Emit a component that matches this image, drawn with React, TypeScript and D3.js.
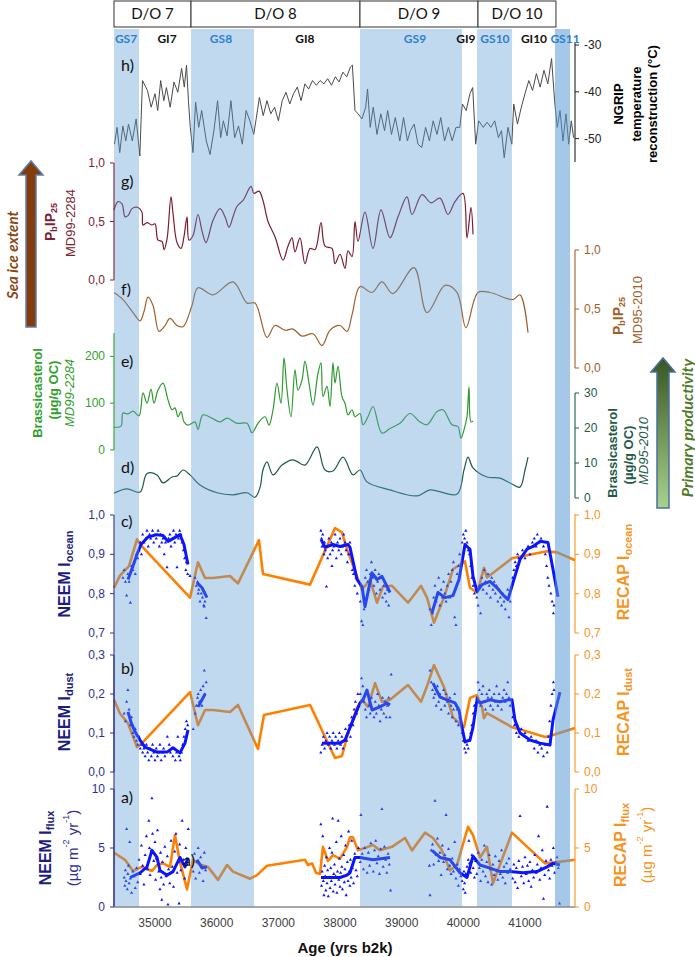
import React from 'react';
import * as d3 from 'd3';

// ---------------- DATA ----------------
const AGE_DOMAIN: [number, number] = [34335, 41811];
const X_TICKS = [35000, 36000, 37000, 38000, 39000, 40000, 41000];

const DO_EVENTS = [
  { label: 'D/O 7', start: 34335, end: 35584 },
  { label: 'D/O 8', start: 35584, end: 38324 },
  { label: 'D/O 9', start: 38324, end: 40238 },
  { label: 'D/O 10', start: 40238, end: 41502 },
];

const STADIALS = [
  { start: 34335, end: 34741, dark: false },
  { start: 35584, end: 36605, dark: false },
  { start: 38324, end: 39978, dark: false },
  { start: 40222, end: 40789, dark: false },
  { start: 41486, end: 41730, dark: true },
];

const PERIOD_LABELS = [
  { label: 'GS7', age: 34530, stadial: true },
  { label: 'GI7', age: 35195, stadial: false },
  { label: 'GS8', age: 36070, stadial: true },
  { label: 'GI8', age: 37432, stadial: false },
  { label: 'GS9', age: 39216, stadial: true },
  { label: 'GI9', age: 40040, stadial: false },
  { label: 'GS10', age: 40513, stadial: true },
  { label: 'GI10', age: 41146, stadial: false },
  { label: 'GS11', age: 41649, stadial: true },
];

// h) NGRIP temperature (°C)
const NGRIP_TEMP: [number, number][] = [
  [34342,-51.2],[34385,-47.6],[34428,-53],[34478,-47.3],[34526,-50.5],[34570,-46.9],[34632,-50.5],[34694,-45.8],[34754,-53.7],[34797,-37.6],[34877,-39.7],[34938,-43.3],[35000,-40.4],[35044,-44],[35092,-37.6],[35143,-41.9],[35185,-39.1],[35246,-43.3],[35308,-37.9],[35370,-40.1],[35431,-35],[35475,-39],[35511,-34.3],[35542,-41.9],[35572,-47.6],[35616,-53],[35658,-42.2],[35709,-47.6],[35757,-44],[35832,-50.5],[35893,-53.4],[35955,-48.3],[36015,-41.9],[36065,-49.8],[36108,-46.2],[36169,-49.4],[36231,-41.9],[36292,-49.8],[36354,-47.3],[36416,-51.2],[36477,-44],[36539,-46.2],[36601,-49.1],[36644,-45.5],[36693,-41.2],[36755,-45.1],[36816,-41.9],[36878,-44.7],[36939,-43.3],[37001,-46.2],[37063,-41.9],[37124,-40.1],[37186,-42.6],[37246,-40.4],[37308,-39],[37369,-41.9],[37431,-38.3],[37492,-39.4],[37554,-37.6],[37616,-38.6],[37677,-37.6],[37739,-38.3],[37800,-37.2],[37862,-38.6],[37924,-36.8],[37985,-37.9],[38047,-35.8],[38109,-36.8],[38170,-34.7],[38201,-34.3],[38243,-44],[38293,-44.7],[38355,-45.8],[38417,-43.3],[38447,-39.4],[38490,-47.6],[38539,-43.3],[38600,-49.1],[38662,-44.7],[38723,-48.3],[38773,-44],[38835,-49.1],[38897,-45.5],[38970,-50.5],[39031,-45.5],[39093,-50.5],[39142,-48.3],[39203,-46.9],[39265,-51.2],[39326,-51.9],[39388,-47.6],[39450,-50.5],[39511,-46.2],[39573,-49.1],[39634,-45.5],[39696,-50.5],[39758,-47.6],[39819,-50.5],[39881,-47.6],[39943,-47.6],[39985,-42.6],[40046,-44],[40108,-40.4],[40152,-39.1],[40200,-51.2],[40249,-46.2],[40324,-47.6],[40385,-46.5],[40447,-47.6],[40509,-46.2],[40570,-49.8],[40619,-48.3],[40663,-54.1],[40724,-47.6],[40786,-51.2],[40817,-42.6],[40878,-46.9],[40940,-43.3],[41000,-40.4],[41062,-37.6],[41123,-39.7],[41185,-36.1],[41246,-39],[41308,-35.4],[41370,-38.3],[41431,-32.9],[41480,-41.9],[41524,-47.6],[41568,-44],[41616,-50.5],[41665,-44.7],[41709,-51.2],[41751,-46.2],[41788,-49.8]
];

// g) PbIP25 MD99-2284
const PBIP25_MD99: [number, number][] = [
  [34335,0.60],[34400,0.67],[34465,0.65],[34514,0.54],[34562,0.55],[34627,0.61],[34724,0.62],[34789,0.58],[34805,0.47],[34870,0.49],[34951,0.47],[35000,0.48],[35049,0.34],[35114,0.33],[35146,0.26],[35195,0.35],[35259,0.71],[35292,0.57],[35357,0.32],[35422,0.27],[35470,0.37],[35519,0.54],[35551,0.34],[35616,0.38],[35697,0.56],[35762,0.42],[35827,0.32],[35941,0.51],[36054,0.61],[36135,0.54],[36200,0.45],[36265,0.54],[36330,0.63],[36427,0.68],[36557,0.80],[36605,0.74],[36686,0.76],[36751,0.68],[36832,0.50],[36946,0.37],[37076,0.17],[37157,0.29],[37222,0.36],[37270,0.24],[37351,0.36],[37432,0.14],[37514,0.27],[37595,0.26],[37692,0.49],[37757,0.29],[37870,0.27],[37919,0.14],[38000,0.22],[38081,0.10],[38130,0.25],[38195,0.20],[38243,0.50],[38292,0.33],[38405,0.58],[38535,0.27],[38665,0.60],[38811,0.36],[38941,0.54],[39086,0.71],[39168,0.56],[39330,0.73],[39476,0.66],[39622,0.70],[39751,0.56],[39865,0.67],[39995,0.74],[40059,0.36],[40124,0.62],[40157,0.39]
];

// f) PbIP25 MD95-2010
const PBIP25_MD95: [number, number][] = [
  [34335,0.64],[34481,0.58],[34643,0.47],[34757,0.40],[34822,0.48],[34886,0.60],[34968,0.53],[35065,0.31],[35162,0.36],[35243,0.42],[35357,0.36],[35454,0.35],[35600,0.53],[35697,0.68],[35941,0.62],[36265,0.73],[36492,0.55],[36622,0.55],[36816,0.26],[36946,0.36],[37108,0.32],[37238,0.33],[37384,0.27],[37562,0.29],[37708,0.19],[37838,0.32],[38000,0.36],[38114,0.31],[38195,0.45],[38324,0.69],[38519,0.64],[38681,0.73],[38859,0.63],[39200,0.85],[39411,0.47],[39703,0.70],[39897,0.64],[40043,0.34],[40238,0.64],[40432,0.64],[40805,0.58],[40919,0.62],[41049,0.30]
];

// e) Brassicasterol MD99-2284 (µg/g OC)
const BRASSI_MD99: [number, number][] = [
  [34335,49],[34449,51],[34481,79],[34562,77],[34643,83],[34741,73],[34805,122],[34870,100],[34935,130],[34984,100],[35049,128],[35130,143],[35211,107],[35276,86],[35324,90],[35373,71],[35422,82],[35470,60],[35535,53],[35649,60],[35697,44],[35778,75],[35924,68],[36054,60],[36168,68],[36330,57],[36492,57],[36573,37],[36670,57],[36784,71],[36849,53],[36914,86],[36978,143],[37043,100],[37092,197],[37141,128],[37205,71],[37270,171],[37319,128],[37384,150],[37432,190],[37497,143],[37562,96],[37643,164],[37692,186],[37724,114],[37789,136],[37838,93],[37886,186],[37919,143],[37968,179],[38032,114],[38081,100],[38130,75],[38195,86],[38243,71],[38324,78],[38373,54],[38454,71],[38535,93],[38681,36],[38811,46],[38973,57],[39135,78],[39297,60],[39411,54],[39573,82],[39670,86],[39816,54],[39913,50],[39962,25],[40011,43],[40059,71],[40092,135],[40124,60],[40157,62]
];

// d) Brassicasterol MD95-2010 (µg/g OC)
const BRASSI_MD95: [number, number][] = [
  [34335,1.4],[34546,2.6],[34757,1.7],[34870,7],[35032,6.6],[35130,4.3],[35276,6],[35357,6.3],[35454,8],[35568,6.6],[35730,3.7],[36005,1.5],[36265,0.9],[36492,1.5],[36622,0.2],[36703,3],[36751,8],[36816,10.3],[36914,6.6],[37059,9.4],[37238,10.9],[37432,9.4],[37627,14.6],[37757,8],[37886,7.7],[38049,11.7],[38211,6.6],[38324,8],[38438,4.6],[38811,2.3],[39249,0.6],[39459,2.3],[39897,1.1],[40011,8],[40076,11.7],[40157,8.6],[40384,6],[40595,5.7],[40789,4],[40919,3.1],[41000,8],[41049,11.7]
];

// c) I_ocean
const RECAP_OCEAN: [number, number][] = [
  [34335,0.815],[34432,0.846],[34578,0.87],[34708,0.938],[34789,0.92],[35568,0.79],[35697,0.88],[35811,0.84],[35941,0.84],[36216,0.845],[36346,0.826],[36686,0.936],[36751,0.85],[37514,0.823],[37919,0.967],[38032,0.956],[38114,0.913],[38276,0.844],[38357,0.81],[38486,0.836],[38600,0.777],[38697,0.818],[38843,0.82],[39103,0.777],[39314,0.82],[39411,0.79],[39524,0.726],[39686,0.79],[39832,0.862],[40027,0.882],[40108,0.815],[40222,0.803],[40270,0.828],[40335,0.866],[40384,0.841],[40789,0.89],[40951,0.895],[41357,0.908],[41519,0.905],[41811,0.885]
];
const NEEM_OCEAN_LINE: [number, number][][] = [
  [[34562,0.836],[34643,0.87],[34708,0.90],[34773,0.925],[34886,0.944],[35032,0.95],[35130,0.948],[35211,0.933],[35292,0.94],[35405,0.95],[35470,0.925],[35535,0.874]],
  [[35681,0.828],[35762,0.815],[35843,0.79]],
  [[37692,0.938],[37757,0.918],[37886,0.925],[38000,0.92],[38130,0.925],[38162,0.918],[38276,0.836],[38357,0.818],[38405,0.767],[38519,0.853],[38600,0.836],[38681,0.844],[38811,0.803]],
  [[39492,0.751],[39589,0.803],[39703,0.79],[39832,0.795],[39930,0.836],[40027,0.925],[40108,0.913],[40157,0.844],[40222,0.805],[40303,0.823],[40432,0.831],[40546,0.815],[40643,0.797],[40724,0.785],[40805,0.828],[40919,0.887],[41032,0.913],[41130,0.92],[41243,0.933],[41373,0.93],[41454,0.862],[41535,0.792]],
];
const NEEM_OCEAN_PTS: [number, number][] = [
  [34480,0.84],[34500,0.86],[34520,0.83],[34540,0.795],[34560,0.85],[34580,0.83],[34600,0.777],[34620,0.87],[34640,0.86],[34660,0.88],[34680,0.85],[34700,0.9],[34720,0.89],[34740,0.91],[34760,0.93],[34780,0.9],[34800,0.95],[34820,0.93],[34850,0.94],[34870,0.96],[34890,0.92],[34910,0.95],[34930,0.94],[34960,0.96],[34980,0.93],[35000,0.95],[35020,0.94],[35050,0.96],[35070,0.92],[35090,0.95],[35110,0.93],[35130,0.94],[35150,0.9],[35170,0.93],[35195,0.867],[35220,0.94],[35240,0.95],[35260,0.92],[35280,0.94],[35300,0.96],[35320,0.93],[35340,0.95],[35357,0.867],[35380,0.94],[35400,0.96],[35420,0.95],[35440,0.93],[35460,0.91],[35480,0.89],[35500,0.86],[35510,0.88],[35530,0.85],[35568,0.845],
  [35650,0.84],[35670,0.82],[35690,0.83],[35700,0.8],[35710,0.81],[35730,0.78],[35750,0.8],[35770,0.79],[35790,0.77],[35800,0.767],[35810,0.78],[35830,0.738],
  [37690,0.96],[37700,0.94],[37710,0.92],[37720,0.95],[37740,0.9],[37750,0.93],[37760,0.91],[37780,0.818],[37790,0.92],[37800,0.89],[37820,0.94],[37840,0.9],[37860,0.93],[37870,0.87],[37880,0.91],[37900,0.92],[37920,0.95],[37940,0.89],[37960,0.93],[37980,0.91],[38000,0.94],[38020,0.9],[38040,0.92],[38060,0.95],[38080,0.93],[38100,0.91],[38120,0.88],[38140,0.9],[38160,0.93],[38180,0.9],[38200,0.86],[38220,0.85],[38240,0.82],[38260,0.84],[38280,0.8],
  [38330,0.78],[38350,0.73],[38370,0.72],[38390,0.76],[38410,0.84],[38430,0.86],[38450,0.83],[38470,0.81],[38490,0.85],[38510,0.88],[38530,0.84],[38550,0.82],[38570,0.86],[38590,0.8],[38610,0.83],[38630,0.85],[38650,0.81],[38670,0.84],[38690,0.79],[38710,0.82],[38730,0.8],[38750,0.78],[38770,0.81],[38790,0.77],
  [39460,0.76],[39480,0.72],[39500,0.75],[39520,0.79],[39540,0.82],[39560,0.78],[39580,0.8],[39600,0.84],[39620,0.77],[39640,0.81],[39660,0.79],[39680,0.83],[39700,0.8],[39720,0.78],[39740,0.82],[39760,0.85],[39780,0.79],[39800,0.83],[39820,0.86],[39840,0.88],[39860,0.74],[39880,0.72],[39900,0.85],[39920,0.87],[39940,0.9],
  [39980,0.93],[40000,0.95],[40020,0.94],[40040,0.96],[40060,0.93],[40080,0.91],[40100,0.9],[40120,0.87],[40140,0.84],[40160,0.82],[40180,0.8],
  [40220,0.79],[40240,0.77],[40260,0.82],[40280,0.75],[40300,0.84],[40320,0.81],[40340,0.86],[40360,0.83],[40380,0.8],[40400,0.85],[40420,0.82],[40440,0.79],[40460,0.84],[40480,0.81],[40500,0.83],[40520,0.8],[40540,0.82],[40560,0.78],[40580,0.81],[40600,0.79],[40620,0.77],[40640,0.8],[40660,0.78],[40680,0.76],[40700,0.79],[40720,0.81],[40740,0.74],[40760,0.78],
  [40800,0.84],[40820,0.86],[40840,0.88],[40860,0.87],[40880,0.9],[40900,0.89],[40960,0.91],[41000,0.89],[41050,0.92],[41080,0.9],[41120,0.93],[41150,0.94],[41180,0.92],[41200,0.95],[41230,0.93],[41260,0.94],[41300,0.92],[41330,0.9],[41350,0.87],[41370,0.84],[41390,0.82],[41420,0.8],[41440,0.78],[41460,0.75],[41470,0.77]
];

// b) I_dust
const RECAP_DUST: [number, number][] = [
  [34335,0.185],[34432,0.15],[34562,0.125],[34708,0.064],[34789,0.074],[35568,0.205],[35697,0.12],[35811,0.159],[35941,0.159],[36216,0.154],[36346,0.172],[36670,0.059],[36767,0.146],[37514,0.172],[37919,0.036],[38032,0.041],[38130,0.1],[38276,0.165],[38357,0.185],[38454,0.167],[38568,0.228],[38681,0.18],[38811,0.185],[39103,0.223],[39314,0.18],[39411,0.22],[39524,0.274],[39686,0.218],[39832,0.14],[40011,0.115],[40108,0.19],[40222,0.197],[40303,0.167],[40335,0.138],[40384,0.151],[40789,0.115],[40951,0.108],[41324,0.09],[41454,0.095],[41811,0.113]
];
const NEEM_DUST_LINE: [number, number][][] = [
  [[34562,0.154],[34611,0.128],[34676,0.103],[34757,0.082],[34838,0.064],[35032,0.051],[35195,0.051],[35292,0.062],[35405,0.049],[35486,0.074],[35535,0.108]],
  [[35697,0.167],[35762,0.185],[35811,0.2]],
  [[37708,0.074],[37870,0.074],[38000,0.074],[38081,0.082],[38211,0.133],[38324,0.177],[38373,0.185],[38438,0.21],[38519,0.159],[38649,0.167],[38762,0.177],[38811,0.172]],
  [[39508,0.228],[39622,0.192],[39735,0.185],[39865,0.177],[39930,0.159],[39978,0.115],[40027,0.077],[40108,0.082],[40157,0.115],[40222,0.185],[40270,0.177],[40432,0.185],[40595,0.18],[40724,0.185],[40789,0.185],[40838,0.133],[40919,0.1],[41081,0.082],[41243,0.074],[41405,0.069],[41454,0.133],[41535,0.185],[41568,0.205]],
];
const NEEM_DUST_PTS: [number, number][] = [
  [34500,0.15],[34520,0.13],[34540,0.18],[34560,0.21],[34580,0.16],[34600,0.12],[34620,0.14],[34640,0.1],[34660,0.09],[34680,0.11],[34700,0.08],[34720,0.07],[34740,0.09],[34760,0.06],[34780,0.07],[34800,0.05],[34820,0.06],[34840,0.04],[34860,0.07],[34880,0.05],[34900,0.03],[34920,0.06],[34940,0.04],[34960,0.07],[34980,0.05],[35000,0.03],[35020,0.06],[35040,0.04],[35060,0.05],[35080,0.07],[35100,0.03],[35120,0.05],[35140,0.06],[35160,0.04],[35200,0.09],[35230,0.07],[35250,0.05],[35270,0.06],[35290,0.04],[35310,0.06],[35330,0.03],[35350,0.05],[35370,0.09],[35390,0.04],[35410,0.03],[35430,0.05],[35450,0.07],[35470,0.09],[35490,0.11],[35510,0.13],[35530,0.12],
  [35620,0.11],[35650,0.15],[35670,0.17],[35690,0.19],[35700,0.2],[35720,0.18],[35740,0.21],[35760,0.17],[35780,0.22],[35800,0.26],[35810,0.2],[35830,0.23],
  [37690,0.05],[37710,0.07],[37730,0.09],[37750,0.06],[37770,0.08],[37790,0.1],[37810,0.07],[37830,0.09],[37850,0.06],[37870,0.08],[37890,0.1],[37910,0.07],[37930,0.09],[37950,0.06],[37970,0.08],[37990,0.1],[38010,0.07],[38030,0.09],[38050,0.06],[38070,0.08],[38090,0.11],[38110,0.08],[38130,0.1],[38150,0.12],[38170,0.09],[38190,0.14],[38210,0.12],[38230,0.16],[38250,0.18],[38270,0.15],[38290,0.2],
  [38330,0.2],[38350,0.24],[38370,0.22],[38390,0.18],[38410,0.16],[38430,0.14],[38450,0.2],[38470,0.17],[38490,0.15],[38510,0.19],[38530,0.16],[38550,0.14],[38570,0.18],[38590,0.15],[38610,0.2],[38630,0.17],[38650,0.13],[38670,0.16],[38690,0.19],[38710,0.15],[38730,0.18],[38750,0.14],[38770,0.17],[38790,0.19],[38810,0.14],[38830,0.25],
  [39460,0.26],[39480,0.23],[39500,0.21],[39520,0.19],[39540,0.2],[39560,0.17],[39580,0.22],[39600,0.18],[39620,0.2],[39640,0.16],[39660,0.19],[39680,0.21],[39700,0.17],[39720,0.2],[39740,0.18],[39760,0.15],[39780,0.19],[39800,0.17],[39820,0.14],[39840,0.16],[39860,0.2],[39880,0.13],[39900,0.16],[39920,0.12],[39940,0.14],
  [39980,0.1],[40000,0.08],[40020,0.06],[40040,0.05],[40060,0.07],[40080,0.06],[40100,0.08],[40120,0.1],[40140,0.12],[40160,0.15],[40180,0.17],
  [40220,0.19],[40240,0.23],[40260,0.21],[40280,0.17],[40300,0.2],[40320,0.22],[40340,0.18],[40360,0.16],[40380,0.2],[40400,0.19],[40420,0.21],[40440,0.17],[40460,0.19],[40480,0.16],[40500,0.2],[40520,0.18],[40540,0.22],[40560,0.17],[40580,0.2],[40600,0.18],[40620,0.16],[40640,0.19],[40660,0.21],[40680,0.18],[40700,0.2],[40720,0.23],[40740,0.19],[40760,0.17],
  [40800,0.14],[40830,0.12],[40860,0.1],[40900,0.09],[40940,0.11],[41000,0.1],[41050,0.08],[41100,0.09],[41150,0.06],[41180,0.08],[41210,0.05],[41240,0.07],[41270,0.06],[41300,0.04],[41330,0.07],[41360,0.05],[41380,0.09],[41400,0.13],[41420,0.17],[41440,0.2],[41460,0.23],[41470,0.21]
];

// a) I_flux (µg m-2 yr-1)
const RECAP_FLUX: [number, number][] = [
  [34335,4.6],[34514,4.0],[34643,3.05],[34789,3.4],[34951,3.05],[35032,3.56],[35130,3.7],[35243,3.4],[35324,6.1],[35405,3.8],[35519,1.5],[35616,4.0],[35730,3.6],[35859,3.4],[36022,2.3],[36168,3.56],[36265,3.0],[36541,2.4],[36654,2.7],[36816,3.5],[37432,4.0],[37481,3.56],[37546,3.7],[37611,2.9],[37676,2.8],[37724,5.1],[37805,3.9],[37886,4.4],[38000,4.1],[38114,5.1],[38162,5.9],[38211,5.9],[38292,4.8],[38535,5.25],[38649,4.8],[38843,5.1],[39054,5.85],[39168,4.8],[39378,6.3],[39508,5.85],[39654,4.8],[39784,3.1],[39897,3.56],[40076,6.8],[40157,6.1],[40270,4.2],[40384,5.1],[40481,2.0],[40789,6.3],[41324,3.7],[41519,3.8],[41811,4.0]
];
const NEEM_FLUX_LINE: [number, number][][] = [
  [[34595,2.5],[34757,2.9],[34870,3.4],[34951,4.8],[35032,4.2],[35081,3.1],[35195,2.7],[35292,3.0],[35405,4.2],[35486,3.4],[35535,4.2]],
  [[35681,4.0],[35762,3.3],[35843,3.4]],
  [[37692,2.5],[37886,2.5],[38000,2.5],[38114,2.7],[38162,2.9],[38243,4.2],[38324,4.2],[38535,4.0],[38811,4.2]],
  [[39492,4.8],[39622,4.2],[39784,4.0],[39946,2.9],[40059,2.5],[40157,4.3],[40270,3.56],[40432,3.3],[40595,3.0],[40757,3.0],[40968,2.9],[41195,3.0],[41357,3.4],[41454,3.7],[41568,3.56]],
];
const NEEM_FLUX_PTS: [number, number][] = [
  [34500,2.5],[34510,1.8],[34520,3.1],[34530,2.2],[34540,6.6],[34550,1.5],[34560,2.8],[34570,3.5],[34580,2.0],[34590,5.5],[34600,2.4],[34620,1.2],[34640,3.0],[34660,2.6],[34680,1.6],[34700,3.3],[34720,2.1],[34740,4.0],[34760,2.8],[34780,5.2],[34800,3.5],[34820,1.9],[34840,4.4],[34860,6.0],[34880,3.2],[34900,7.3],[34910,5.0],[34920,2.7],[34940,4.8],[34950,9.2],[34960,6.2],[34980,3.9],[35000,5.5],[35010,2.3],[35020,4.1],[35040,6.5],[35060,3.0],[35080,1.5],[35090,4.6],[35100,2.5],[35110,0.6],[35120,3.8],[35140,1.9],[35160,5.1],[35180,2.6],[35200,4.3],[35210,0.2],[35220,3.2],[35240,2.0],[35260,5.6],[35280,3.4],[35300,1.7],[35320,4.7],[35340,6.2],[35360,2.9],[35380,3.8],[35390,0.3],[35400,5.3],[35420,3.1],[35440,7.3],[35460,4.0],[35480,2.4],[35500,5.0],[35520,3.6],[35540,6.6],
  [35620,3.0],[35640,4.5],[35660,2.4],[35680,3.8],[35700,5.0],[35720,2.9],[35740,4.2],[35760,3.4],[35780,2.2],[35800,4.6],[35820,3.1],
  [37690,7.0],[37700,1.8],[37710,3.0],[37720,6.0],[37730,2.2],[37740,1.0],[37750,3.5],[37760,2.6],[37770,1.4],[37780,4.2],[37790,2.0],[37800,3.1],[37810,0.9],[37820,2.5],[37830,5.0],[37840,1.6],[37850,3.3],[37860,2.2],[37870,4.6],[37880,7.5],[37890,1.3],[37900,2.8],[37910,3.6],[37920,1.9],[37930,2.6],[37940,5.5],[37950,1.2],[37960,3.0],[37970,7.3],[37980,2.3],[37990,4.1],[38000,1.7],[38010,2.9],[38020,6.0],[38030,3.4],[38040,1.5],[38050,2.6],[38060,4.4],[38070,2.1],[38080,3.2],[38090,5.2],[38100,1.0],[38110,2.7],[38120,3.8],[38130,2.2],[38140,6.4],[38150,3.0],[38160,1.8],[38170,4.0],[38180,2.5],[38190,5.6],[38200,3.3],[38220,2.0],[38240,4.5],[38260,3.1],[38280,2.6],[38300,5.0],
  [38330,3.8],[38340,7.8],[38360,4.5],[38380,3.2],[38400,5.0],[38420,4.1],[38440,2.9],[38460,4.6],[38480,3.5],[38500,5.4],[38520,4.0],[38540,3.0],[38560,4.8],[38580,5.6],[38600,3.7],[38620,4.3],[38640,2.8],[38660,4.9],[38680,8.3],[38700,3.4],[38720,5.1],[38740,4.0],[38760,2.9],[38780,4.5],[38800,3.6],[38820,1.4],
  [39450,3.5],[39460,1.0],[39480,4.8],[39500,5.3],[39520,3.6],[39540,9.0],[39560,4.4],[39580,5.8],[39600,3.9],[39620,4.6],[39640,2.7],[39660,5.2],[39680,3.8],[39700,4.4],[39720,7.8],[39740,3.2],[39760,4.9],[39780,3.5],[39800,2.8],[39820,4.1],[39840,3.0],[39860,5.5],[39880,2.4],[39900,3.6],[39920,1.8],[39940,3.2],[39960,2.6],
  [39980,2.2],[40000,1.5],[40010,3.0],[40020,2.0],[40030,1.2],[40040,2.8],[40060,3.4],[40080,4.0],[40090,5.6],[40100,3.7],[40120,2.9],[40140,4.4],[40160,3.3],[40180,2.5],[40200,3.9],
  [40220,2.8],[40240,4.6],[40260,3.3],[40280,2.2],[40300,4.0],[40320,3.0],[40340,5.2],[40360,2.6],[40380,3.8],[40400,2.1],[40420,4.4],[40440,3.2],[40460,1.9],[40480,3.6],[40500,2.7],[40520,4.3],[40540,3.1],[40560,2.3],[40580,3.9],[40600,2.8],[40620,4.8],[40640,2.5],[40660,3.4],[40680,2.0],[40700,3.7],[40720,2.9],[40740,4.1],[40760,3.2],
  [40800,2.4],[40820,3.6],[40840,2.1],[40860,3.3],[40880,1.6],[40900,3.9],[40920,7.7],[40940,2.6],[40960,3.4],[40980,2.0],[41000,4.2],[41020,2.8],[41040,3.5],[41060,2.2],[41080,3.8],[41100,1.7],[41120,3.1],[41140,2.5],[41160,4.4],[41180,2.9],[41200,3.6],[41220,6.0],[41240,2.3],[41260,3.3],[41280,4.8],[41300,0.7],[41320,2.7],[41340,3.9],[41360,8.5],[41380,3.1],[41400,2.4],[41420,4.0],[41440,3.5],[41460,5.0],[41480,2.9],[41500,3.8],[41520,4.2],[41540,3.3],[41560,0.3]
];

const TICKS_H = [-30, -40, -50];
const TICKS_UNIT = [0, 0.5, 1];
const TICKS_E = [0, 100, 200];
const TICKS_D = [0, 10, 20, 30];
const TICKS_C = [0.7, 0.8, 0.9, 1.0];
const TICKS_B = [0, 0.1, 0.2, 0.3];
const TICKS_A = [0, 5, 10];

// ---------------- LAYOUT / STYLE ----------------
const X0 = 114, X1 = 575;
const x = d3.scaleLinear().domain(AGE_DOMAIN).range([X0, X1]);
const yH = d3.scaleLinear().domain([-55, -30]).range([162, 45]);
const yG = d3.scaleLinear().domain([0, 1]).range([280, 163]);
const yF = d3.scaleLinear().domain([0, 1]).range([368, 250]);
const yE = d3.scaleLinear().domain([0, 250]).range([450, 333]);
const yD = d3.scaleLinear().domain([0, 30]).range([498, 393]);
const yC = d3.scaleLinear().domain([0.7, 1.0]).range([633, 515]);
const yB = d3.scaleLinear().domain([0, 0.3]).range([772, 655]);
const yA = d3.scaleLinear().domain([0, 10]).range([907, 789]);

const SANS = "'Liberation Sans', Arial, sans-serif";
const CAL = "Lato, 'Open Sans', sans-serif";
const C_NAVY = '#2e3192';
const C_ORANGE = '#f7941d';
const C_RECAP = '#ff8000';
const C_NEEM = '#0a14ff';
const C_G = '#7b2332';
const C_F = '#a0602a';
const C_E = '#32a02c';
const C_D = '#1e5a48';

function comma(d: number, digits: number) {
  return digits > 0 ? d.toFixed(digits).replace('.', ',') : String(d);
}

function mkLine(ys: d3.ScaleLinear<number, number>, curve: d3.CurveFactory = d3.curveLinear) {
  return d3.line<[number, number]>().x(d => x(d[0])).y(d => ys(d[1])).curve(curve);
}

type AxisProps = {
  xPos: number; side: 'left' | 'right'; scale: d3.ScaleLinear<number, number>;
  ticks: number[]; digits: number; color: string; textColor?: string; y1: number; y2: number;
};
const VAxis = ({ xPos, side, scale, ticks, digits, color, textColor, y1, y2 }: AxisProps) => {
  const dir = side === 'left' ? -1 : 1;
  return (
    <g>
      <line x1={xPos} x2={xPos} y1={y1} y2={y2} stroke={color} strokeWidth={1.1} />
      {ticks.map(t => {
        const yy = scale(t);
        return (
          <g key={t}>
            <line x1={xPos} x2={xPos + dir * 4} y1={yy} y2={yy} stroke={color} strokeWidth={1} />
            <text x={xPos + dir * 9} y={yy} textAnchor={side === 'left' ? 'end' : 'start'} dominantBaseline="central"
              fill={textColor || color} fontSize={12} fontFamily={SANS}>{comma(t, digits)}</text>
          </g>
        );
      })}
    </g>
  );
};

const VText = ({ cx, cy, children, size = 13, color = '#000', weight = 'normal', italic = false, family = SANS }: any) => (
  <text transform={`translate(${cx},${cy}) rotate(-90)`} textAnchor="middle" dominantBaseline="central"
    fontSize={size} fill={color} fontWeight={weight} fontStyle={italic ? 'italic' : 'normal'} fontFamily={family}>
    {children}
  </text>
);

const Units = () => (
  <>
    <tspan>(µg m</tspan>
    <tspan fontSize={9} dy={-6}>-2</tspan>
    <tspan dy={6}> yr</tspan>
    <tspan fontSize={9} dy={-6}>-1</tspan>
    <tspan dy={6}>)</tspan>
  </>
);

const PbIP = () => (
  <>
    <tspan>P</tspan><tspan fontSize={9} dy={4}>b</tspan><tspan dy={-4}>IP</tspan><tspan fontSize={9} dy={4}>25</tspan>
  </>
);

export default function App() {
  const tri = d3.symbol().type(d3.symbolTriangle).size(4.5)() as string;
  const scatter = (pts: [number, number][], ys: d3.ScaleLinear<number, number>) =>
    pts.map((p, i) => <path key={i} d={tri} transform={`translate(${x(p[0])},${ys(p[1])})`} fill={C_NEEM} />);

  const smooth = d3.curveCatmullRom.alpha(0.5);

  return (
    <svg width={695} height={957} style={{ position: 'absolute', left: 0, top: 0, background: '#fff' }}>
      <rect x={0} y={0} width={695} height={957} fill="#fff" />

      {/* Header box */}
      {DO_EVENTS.map(ev => (
        <g key={ev.label}>
          <rect x={x(ev.start)} y={1} width={x(ev.end) - x(ev.start)} height={26} fill="#fff" stroke="#333" strokeWidth={1} />
          <text x={(x(ev.start) + x(ev.end)) / 2} y={19} textAnchor="middle" fontSize={15} fontFamily={CAL} fill="#111">{ev.label}</text>
        </g>
      ))}

      {/* h) NGRIP */}
      <path d={mkLine(yH)(NGRIP_TEMP) || ''} fill="none" stroke="#4a4a4a" strokeWidth={1} />
      {/* g) */}
      <path d={mkLine(yG, smooth)(PBIP25_MD99) || ''} fill="none" stroke="#7b1c2e" strokeWidth={1.2} />
      {/* f) */}
      <path d={mkLine(yF, smooth)(PBIP25_MD95) || ''} fill="none" stroke="#a0602a" strokeWidth={1.2} />
      {/* e) */}
      <path d={mkLine(yE, smooth)(BRASSI_MD99) || ''} fill="none" stroke="#2f9a2f" strokeWidth={1.2} />
      {/* d) */}
      <path d={mkLine(yD, smooth)(BRASSI_MD95) || ''} fill="none" stroke="#1e5a48" strokeWidth={1.2} />

      {/* c, b, a RECAP + NEEM */}
      <path d={mkLine(yC)(RECAP_OCEAN) || ''} fill="none" stroke={C_RECAP} strokeWidth={2.6} strokeLinejoin="round" />
      <path d={mkLine(yB)(RECAP_DUST) || ''} fill="none" stroke={C_RECAP} strokeWidth={2.6} strokeLinejoin="round" />
      <path d={mkLine(yA)(RECAP_FLUX) || ''} fill="none" stroke={C_RECAP} strokeWidth={2.6} strokeLinejoin="round" />
      <g>{scatter(NEEM_OCEAN_PTS, yC)}</g>
      <g>{scatter(NEEM_DUST_PTS, yB)}</g>
      <g>{scatter(NEEM_FLUX_PTS, yA)}</g>
      {NEEM_OCEAN_LINE.map((s, i) => <path key={'o' + i} d={mkLine(yC)(s) || ''} fill="none" stroke={C_NEEM} strokeWidth={3} strokeLinejoin="round" />)}
      {NEEM_DUST_LINE.map((s, i) => <path key={'d' + i} d={mkLine(yB)(s) || ''} fill="none" stroke={C_NEEM} strokeWidth={3} strokeLinejoin="round" />)}
      {NEEM_FLUX_LINE.map((s, i) => <path key={'f' + i} d={mkLine(yA)(s) || ''} fill="none" stroke={C_NEEM} strokeWidth={3} strokeLinejoin="round" />)}

      {/* Stadial bands (semi-transparent overlay) */}
      {STADIALS.map((b, i) => (
        <rect key={i} x={x(b.start)} y={29} width={x(b.end) - x(b.start)} height={907 - 29}
          fill="#5b9bd5" fillOpacity={b.dark ? 0.55 : 0.38} />
      ))}

      {/* period labels */}
      {PERIOD_LABELS.map(p => (
        <text key={p.label} x={x(p.age)} y={43} textAnchor="middle" fontSize={12} fontWeight="bold" fontFamily={CAL}
          fill={p.stadial ? '#2b7fd0' : '#111'}>{p.label}</text>
      ))}

      {/* panel labels */}
      {[['h)', 71], ['g)', 187], ['f)', 295], ['e)', 367], ['d)', 473], ['c)', 527], ['b)', 674], ['a)', 803]].map(([t, yy]) => (
        <text key={t as string} x={121} y={yy as number} fontSize={16} fontFamily={CAL} fill="#111">{t}</text>
      ))}
      <text x={183} y={866} fontSize={16} fontFamily={CAL} fill="#111">a)</text>

      {/* Axes */}
      <VAxis xPos={X1} side="right" scale={yH} ticks={TICKS_H} digits={0} color="#222" y1={43} y2={162} />
      <VAxis xPos={X0} side="left" scale={yG} ticks={TICKS_UNIT} digits={1} color={C_G} y1={163} y2={280} />
      <VAxis xPos={X1} side="right" scale={yF} ticks={TICKS_UNIT} digits={1} color={C_F} y1={250} y2={368} />
      <VAxis xPos={X0} side="left" scale={yE} ticks={TICKS_E} digits={0} color={C_E} y1={333} y2={450} />
      <VAxis xPos={X1} side="right" scale={yD} ticks={TICKS_D} digits={0} color={C_D} y1={393} y2={498} />
      <VAxis xPos={X0} side="left" scale={yC} ticks={TICKS_C} digits={1} color={C_NAVY} y1={515} y2={907} />
      <VAxis xPos={X0} side="left" scale={yB} ticks={TICKS_B} digits={1} color={C_NAVY} y1={655} y2={772} />
      <VAxis xPos={X0} side="left" scale={yA} ticks={TICKS_A} digits={0} color={C_NAVY} y1={789} y2={907} />
      <VAxis xPos={X1} side="right" scale={yC} ticks={TICKS_C} digits={1} color={C_ORANGE} y1={514} y2={633} />
      <VAxis xPos={X1} side="right" scale={yB} ticks={TICKS_B} digits={1} color={C_ORANGE} y1={655} y2={772} />
      <VAxis xPos={X1} side="right" scale={yA} ticks={TICKS_A} digits={0} color={C_ORANGE} y1={789} y2={907} />

      {/* X axis */}
      <line x1={X0} x2={X1} y1={907} y2={907} stroke="#8a8a8a" strokeWidth={1.5} />
      {X_TICKS.map(t => (
        <text key={t} x={x(t)} y={927} textAnchor="middle" fontSize={12} fontFamily={SANS} fill="#404040">{t}</text>
      ))}
      <text x={345} y={953} textAnchor="middle" fontSize={15} fontWeight="bold" fontFamily={SANS} fill="#111">Age (yrs b2k)</text>

      {/* Right titles */}
      <VText cx={618} cy={104} weight="bold" size={13}>NGRIP</VText>
      <VText cx={636} cy={104} weight="bold" size={13}>temperature</VText>
      <VText cx={652} cy={104} weight="bold" size={13}>reconstruction (°C)</VText>

      <VText cx={618} cy={316} weight="bold" size={14} color={C_F}><PbIP /></VText>
      <VText cx={637} cy={310} size={13} color={C_F}>MD95-2010</VText>

      <VText cx={612} cy={453} weight="bold" size={13} color={C_D}>Brassicasterol</VText>
      <VText cx={628} cy={455} weight="bold" size={13} color={C_D}>(µg/g OC)</VText>
      <VText cx={643} cy={451} italic size={13} color={C_D}>MD95-2010</VText>

      <VText cx={623} cy={572} weight="bold" size={16} color={C_ORANGE}>RECAP I<tspan fontSize={11} dy={5}>ocean</tspan></VText>
      <VText cx={623} cy={712} weight="bold" size={16} color={C_ORANGE}>RECAP I<tspan fontSize={11} dy={5}>dust</tspan></VText>
      <VText cx={620} cy={845} weight="bold" size={16} color={C_ORANGE}>RECAP I<tspan fontSize={11} dy={5}>flux</tspan></VText>
      <VText cx={646} cy={845} size={15} color={C_ORANGE}><Units /></VText>

      {/* Left titles */}
      <VText cx={50} cy={222} weight="bold" size={14} color={C_G}><PbIP /></VText>
      <VText cx={70} cy={223} size={13} color={C_G}>MD99-2284</VText>

      <VText cx={37} cy={393} weight="bold" size={13} color={C_E}>Brassicasterol</VText>
      <VText cx={53} cy={390} weight="bold" size={13} color={C_E}>(µg/g OC)</VText>
      <VText cx={69} cy={393} italic size={13} color={C_E}>MD99-2284</VText>

      <VText cx={64} cy={574} weight="bold" size={16} color="#1b1b80">NEEM I<tspan fontSize={11} dy={5}>ocean</tspan></VText>
      <VText cx={64} cy={712} weight="bold" size={16} color="#1b1b80">NEEM I<tspan fontSize={11} dy={5}>dust</tspan></VText>
      <VText cx={45} cy={848} weight="bold" size={16} color="#1b1b80">NEEM I<tspan fontSize={11} dy={5}>flux</tspan></VText>
      <VText cx={72} cy={848} size={15} color="#2e3192"><Units /></VText>

      {/* Sea ice arrow */}
      <path d="M26,327 L26,175 L19,175 L31,161 L43,175 L36,175 L36,327 Z" fill="#843c0c" stroke="#5b80a8" strokeWidth={1.5} />
      <VText cx={12} cy={255} weight="bold" italic size={15} color="#8b4513" family={CAL}>Sea ice extent</VText>

      {/* Primary productivity arrow */}
      <defs>
        <linearGradient id="ppGrad" x1="0" y1="0" x2="0" y2="1">
          <stop offset="0%" stopColor="#375623" />
          <stop offset="100%" stopColor="#a9d18e" />
        </linearGradient>
      </defs>
      <path d="M657,508 L657,372 L651,372 L663,358 L675,372 L669,372 L669,508 Z" fill="url(#ppGrad)" stroke="#4a6fa0" strokeWidth={1.5} />
      <VText cx={686} cy={428} weight="bold" italic size={16} color="#4f7a28" family={CAL}>Primary productivity</VText>
    </svg>
  );
}
